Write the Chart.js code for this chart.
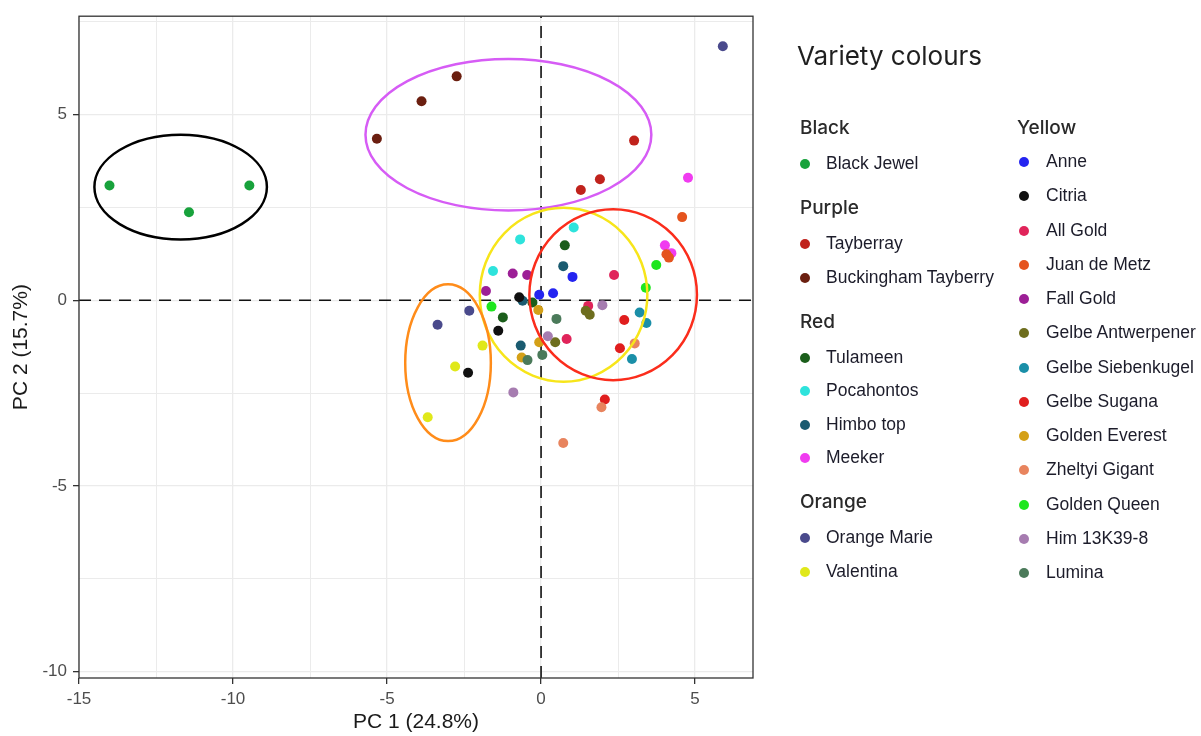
<!DOCTYPE html>
<html>
<head>
<meta charset="utf-8">
<title>PCA variety colours</title>
<script src="https://cdn.jsdelivr.net/npm/chart.js@4.4.1/dist/chart.umd.min.js"></script>
<style>
    body { margin: 0; background: #fff; }
    #wrap { position: relative; width: 1201px; height: 736px; overflow: hidden; }
    #pca { position: absolute; left: 0; top: 0; }
    .lg { position: absolute; white-space: nowrap; line-height: 1; transform: translateY(-50%); }
    .lg-title { font-family: Inter, "Open Sans", sans-serif; font-size: 26px; color: #1f1f1f; }
    .lg-head { font-family: Inter, "Open Sans", sans-serif; font-size: 19px; font-weight: 500; color: #2a2a2a; }
    .lg-item { font-family: "Liberation Sans", Arial, sans-serif; font-size: 17.5px; color: #1c1c2a; }
    .lg-dot { position: absolute; width: 10px; height: 10px; border-radius: 50%; transform: translate(-50%, -50%); }
</style>
</head>
<body>
<div id="wrap">
    <canvas id="pca" width="1201" height="736"></canvas>
    <div id="legend"></div>
</div>
<script>
// ---------------------------
// Data
// ---------------------------
const varieties = [
    'Black Jewel', 'Tayberray', 'Buckingham Tayberry', 'Tulameen', 'Pocahontos', 'Himbo top', 'Meeker',
    'Orange Marie', 'Valentina', 'Anne', 'Citria', 'All Gold', 'Juan de Metz', 'Fall Gold',
    'Gelbe Antwerpener', 'Gelbe Siebenkugel', 'Gelbe Sugana', 'Golden Everest', 'Zheltyi Gigant',
    'Golden Queen', 'Him 13K39-8', 'Lumina'
];
const varietyGroup = [
    'Black', 'Purple', 'Purple', 'Red', 'Red', 'Red', 'Red',
    'Orange', 'Orange', 'Yellow', 'Yellow', 'Yellow', 'Yellow', 'Yellow',
    'Yellow', 'Yellow', 'Yellow', 'Yellow', 'Yellow', 'Yellow', 'Yellow', 'Yellow'
];
const varietyColors = [
    '#18a23c', '#c0221c', '#6b1f10', '#1b5e1b', '#2ee3dc', '#1a5b70', '#f03cf0',
    '#4a4a8c', '#e0e81a', '#2424f0', '#111111', '#e0245a', '#e5541e', '#9c1f96',
    '#6e6e1e', '#1a8fa8', '#e01e1e', '#d4a017', '#e8845e', '#1ee61e', '#a67cb0', '#4b7a5a'
];
const pc1 = [
    [-14.01, -11.43, -9.47], [3.02, 1.91, 1.29], [-5.33, -3.88, -2.74], [0.77, -1.24, -0.28],
    [1.06, -0.68, -1.56], [0.72, -0.66, -0.60], [4.77, 4.02, 4.23], [5.90, -3.36, -2.33],
    [-1.90, -2.79, -3.68], [1.02, -0.06, 0.39], [-0.71, -1.39, -2.37], [0.83, 2.37, 1.53],
    [4.58, 4.07, 4.15], [-0.92, -0.45, -1.79], [1.45, 1.58, 0.46], [3.20, 3.42, 2.95],
    [2.70, 2.56, 2.07], [-0.09, -0.06, -0.63], [3.04, 1.96, 0.72], [3.74, 3.40, -1.61],
    [1.99, 0.22, -0.90], [0.50, 0.04, -0.44]
];
const pc2 = [
    [3.09, 2.37, 3.09], [4.30, 3.26, 2.97], [4.35, 5.36, 6.03], [1.48, -0.46, -0.06],
    [1.96, 1.64, 0.79], [0.92, -1.22, -0.01], [3.30, 1.48, 1.27], [6.84, -0.66, -0.28],
    [-1.22, -1.78, -3.15], [0.63, 0.15, 0.19], [0.08, -0.82, -1.95], [-1.04, 0.68, -0.15],
    [2.24, 1.24, 1.15], [0.72, 0.68, 0.25], [-0.28, -0.39, -1.13], [-0.33, -0.61, -1.58],
    [-0.53, -1.29, -2.67], [-0.26, -1.13, -1.54], [-1.16, -2.88, -3.84], [0.95, 0.34, -0.17],
    [-0.13, -0.97, -2.48], [-0.50, -1.47, -1.61]
];

// group ellipses (data units)
const ellipseGroups = ['Black', 'Purple', 'Yellow', 'Red', 'Orange'];
const ellipseCX = [-11.70, -1.06, 0.73, 2.34, -3.02];
const ellipseCY = [3.05, 4.46, 0.15, 0.15, -1.68];
const ellipseRX = [2.80, 4.64, 2.72, 2.72, 1.39];
const ellipseRY = [1.41, 2.04, 2.34, 2.30, 2.11];
const ellipseColors = ['#000000', '#d65cf5', '#f7e51a', '#fb2d1c', '#ff8c1a'];

// axes
const xRange = [-15, 6.88];
const yRange = [-10.17, 7.65];
const xTicks = [-15, -12.5, -10, -7.5, -5, -2.5, 0, 2.5, 5];
const yTicks = [-10, -7.5, -5, -2.5, 0, 2.5, 5, 7.5];
const xTickLabels = ['-15', '-10', '-5', '0', '5'];
const yTickLabels = ['-10', '-5', '0', '5'];
const xLabelled = [-15, -10, -5, 0, 5];
const yLabelled = [-10, -5, 0, 5];
const refX = 0;
const refY = 0;
const xTitle = 'PC 1 (24.8%)';
const yTitle = 'PC 2 (15.7%)';
const legendTitle = 'Variety colours';

// ---------------------------
// Chart
// ---------------------------
Chart.defaults.font.family = '"Liberation Sans", Arial, sans-serif';

const isMajor = v => v % 5 === 0;

const gridOpts = {
    color: '#ebebeb',
    lineWidth: c => (c.tick && isMajor(c.tick.value)) ? 1.3 : 1,
    tickColor: c => (c.tick && isMajor(c.tick.value)) ? '#333333' : 'rgba(0,0,0,0)',
    tickWidth: 1.3,
    tickLength: 6
};

const pointSets = varieties.map((name, i) => ({
    label: name,
    data: pc1[i].map((x, j) => ({ x, y: pc2[i][j] })),
    backgroundColor: varietyColors[i],
    borderWidth: 0,
    pointRadius: 5,
    pointHoverRadius: 5,
    order: -i
}));

const refLine = (pts) => ({
    label: 'ref',
    data: pts,
    showLine: true,
    borderColor: '#111111',
    borderWidth: 1.6,
    borderDash: [12, 8],
    pointRadius: 0,
    pointHoverRadius: 0,
    order: 100
});

// ellipses + panel border drawn through the scales
const panelExtras = {
    id: 'panelExtras',
    afterDatasetsDraw(chart) {
        const { ctx, chartArea: a, scales: { x, y } } = chart;
        ctx.save();
        ctx.beginPath();
        ctx.rect(a.left, a.top, a.width, a.height);
        ctx.clip();
        ellipseGroups.forEach((g, i) => {
            const cx = x.getPixelForValue(ellipseCX[i]);
            const cy = y.getPixelForValue(ellipseCY[i]);
            const rx = Math.abs(x.getPixelForValue(ellipseCX[i] + ellipseRX[i]) - cx);
            const ry = Math.abs(y.getPixelForValue(ellipseCY[i] + ellipseRY[i]) - cy);
            ctx.beginPath();
            ctx.ellipse(cx, cy, rx, ry, 0, 0, Math.PI * 2);
            ctx.strokeStyle = ellipseColors[i];
            ctx.lineWidth = 2.5;
            ctx.stroke();
        });
        ctx.restore();

        ctx.save();
        ctx.strokeStyle = '#333333';
        ctx.lineWidth = 1.3;
        ctx.strokeRect(a.left, a.top, a.width, a.height);
        ctx.restore();
    }
};

new Chart(document.getElementById('pca').getContext('2d'), {
    type: 'scatter',
    data: {
        datasets: [
            ...pointSets,
            refLine([{ x: refX, y: yRange[0] }, { x: refX, y: yRange[1] }]),
            refLine([{ x: xRange[0], y: refY }, { x: xRange[1], y: refY }])
        ]
    },
    options: {
        responsive: false,
        animation: false,
        events: [],
        layout: { padding: { left: 0, top: 15, right: 448, bottom: 0 } },
        plugins: { legend: { display: false }, tooltip: { enabled: false } },
        scales: {
            x: {
                type: 'linear',
                min: xRange[0],
                max: xRange[1],
                afterBuildTicks: s => { s.ticks = xTicks.map(v => ({ value: v })); },
                afterFit: s => { s.height = 58; },
                grid: gridOpts,
                border: { display: false },
                ticks: {
                    autoSkip: false,
                    maxRotation: 0,
                    padding: 5,
                    color: '#4d4d4d',
                    font: { size: 17 },
                    callback: v => {
                        const k = xLabelled.indexOf(v);
                        return k >= 0 ? xTickLabels[k] : '';
                    }
                },
                title: {
                    display: true,
                    text: xTitle,
                    color: '#1a1a1a',
                    font: { size: 21 },
                    padding: { top: 0, bottom: 1 }
                }
            },
            y: {
                type: 'linear',
                min: yRange[0],
                max: yRange[1],
                afterBuildTicks: s => { s.ticks = yTicks.map(v => ({ value: v })); },
                afterFit: s => { s.width = 79; },
                grid: gridOpts,
                border: { display: false },
                ticks: {
                    autoSkip: false,
                    padding: 6,
                    color: '#4d4d4d',
                    font: { size: 17 },
                    callback: v => {
                        const k = yLabelled.indexOf(v);
                        return k >= 0 ? yTickLabels[k] : '';
                    }
                },
                title: {
                    display: true,
                    text: yTitle,
                    color: '#1a1a1a',
                    font: { size: 21 },
                    padding: { top: 9, bottom: 0 }
                }
            }
        }
    },
    plugins: [panelExtras]
});

// ---------------------------
// Grouped legend (HTML)
// ---------------------------
const legendColumns = [
    { groups: ['Black', 'Purple', 'Red', 'Orange'], head: 800, dot: 805, text: 826, step: 33.5, afterHead: 37, beforeHead: 43 },
    { groups: ['Yellow'], head: 1017, dot: 1024, text: 1046, step: 34.25, afterHead: 35, beforeHead: 43 }
];

const legend = document.getElementById('legend');
function addLegendText(cls, text, left, top) {
    const el = document.createElement('div');
    el.className = 'lg ' + cls;
    el.textContent = text;
    el.style.left = left + 'px';
    el.style.top = top + 'px';
    legend.appendChild(el);
}

addLegendText('lg-title', legendTitle, 797, 56);

legendColumns.forEach(col => {
    let y = 127;
    col.groups.forEach((g, gi) => {
        if (gi > 0) y += col.beforeHead;
        addLegendText('lg-head', g, col.head, y);
        y += col.afterHead;
        varieties.forEach((name, i) => {
            if (varietyGroup[i] !== g) return;
            if (legend.lastChild.classList.contains('lg-item')) y += col.step;
            const dot = document.createElement('div');
            dot.className = 'lg-dot';
            dot.style.left = col.dot + 'px';
            dot.style.top = y + 'px';
            dot.style.background = varietyColors[i];
            legend.appendChild(dot);
            addLegendText('lg-item', name, col.text, y);
        });
    });
});
</script>
</body>
</html>
